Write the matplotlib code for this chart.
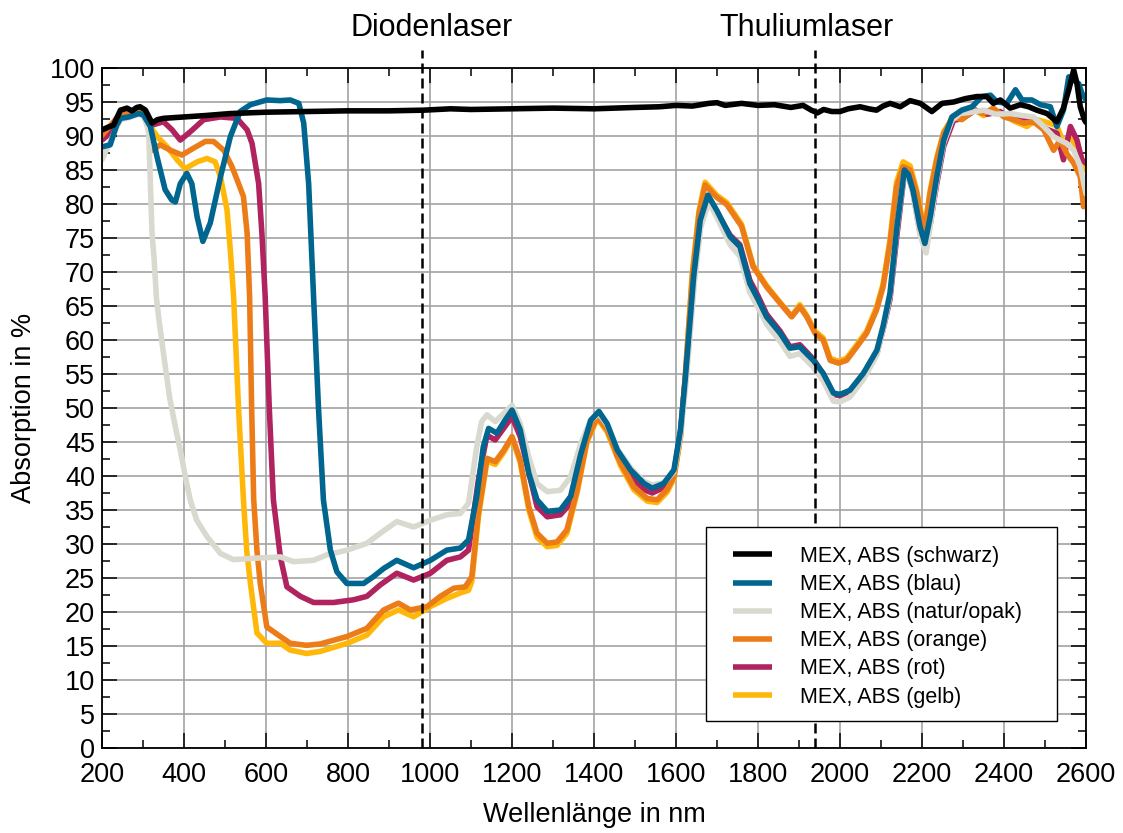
import matplotlib
matplotlib.use("Agg")
import matplotlib.pyplot as plt
from matplotlib.ticker import MultipleLocator
from matplotlib.patches import Rectangle

plt.rcParams['font.family'] = ['Liberation Sans', 'DejaVu Sans']

# ---- measured absorption spectra (wavelength in nm, absorption in %) ----
nm_schwarz = [200, 215, 228, 245, 261, 273, 285, 293, 306, 322, 335, 350, 400, 450, 513, 600,
              700, 797, 900, 985, 1050, 1100, 1200, 1300, 1400, 1500, 1560, 1600, 1640, 1680,
              1700, 1720, 1760, 1800, 1840, 1880, 1910, 1930, 1945, 1960, 1980, 2000, 2020,
              2049, 2070, 2089, 2105, 2122, 2147, 2171, 2196, 2224, 2249, 2277, 2306, 2334,
              2358, 2374, 2391, 2415, 2440, 2460, 2480, 2505, 2529, 2545, 2558, 2570, 2578,
              2586, 2596, 2600]
abs_schwarz = [90.9, 91.3, 91.6, 93.8, 94.1, 93.7, 94.2, 94.3, 93.8, 91.9, 92.4, 92.6, 92.8, 93.0,
               93.3, 93.5, 93.6, 93.7, 93.7, 93.8, 94.0, 93.9, 94.0, 94.1, 94.0, 94.2, 94.3, 94.5,
               94.4, 94.8, 94.9, 94.5, 94.8, 94.5, 94.6, 94.2, 94.5, 93.8, 93.4, 93.9, 93.6, 93.6,
               94.0, 94.3, 94.0, 93.8, 94.4, 94.8, 94.3, 95.2, 94.8, 93.6, 94.8, 95.0, 95.5, 95.8,
               95.8, 94.8, 95.3, 94.1, 94.6, 94.3, 93.8, 93.3, 92.1, 94.1, 96.8, 99.7, 97.7, 94.3,
               92.4, 92.0]

nm_blau = [200, 220, 235, 245, 265, 289, 301, 318, 334, 354, 370, 379, 391, 407, 419, 432, 446,
           464, 489, 513, 537, 562, 602, 635, 659, 680, 692, 704, 716, 728, 740, 757, 773, 797,
           838, 862, 887, 919, 960, 1001, 1041, 1074, 1094, 1114, 1130, 1143, 1163, 1183, 1200,
           1220, 1241, 1261, 1286, 1318, 1343, 1368, 1392, 1412, 1432, 1457, 1489, 1522, 1542,
           1570, 1595, 1611, 1623, 1643, 1659, 1678, 1700, 1732, 1756, 1780, 1800, 1821, 1854,
           1878, 1902, 1935, 1959, 1984, 2000, 2024, 2057, 2090, 2105, 2122, 2139, 2157, 2167,
           2178, 2195, 2207, 2220, 2236, 2253, 2273, 2297, 2322, 2346, 2367, 2383, 2407, 2428,
           2444, 2468, 2489, 2513, 2529, 2545, 2558, 2570, 2582, 2590, 2600]
abs_blau = [88.4, 88.7, 91.5, 92.6, 92.8, 93.3, 93.1, 91.4, 87.0, 82.1, 80.6, 80.3, 83.0, 84.5,
            83.0, 78.1, 74.5, 77.2, 84.0, 89.9, 93.6, 94.6, 95.3, 95.2, 95.3, 94.8, 91.9, 83.0,
            66.4, 50.0, 36.5, 29.1, 25.9, 24.2, 24.2, 25.2, 26.4, 27.6, 26.5, 27.6, 29.1, 29.4,
            30.6, 37.0, 44.3, 47.0, 46.3, 48.2, 49.7, 46.8, 40.4, 36.5, 34.8, 35.0, 37.0, 43.3,
            48.2, 49.5, 47.7, 43.8, 40.9, 38.9, 38.2, 38.9, 40.9, 46.8, 54.6, 69.3, 77.6, 81.3,
            79.0, 75.2, 73.7, 68.3, 66.0, 63.4, 61.0, 58.8, 59.0, 57.0, 55.1, 52.2, 52.0, 52.6,
            55.1, 58.5, 62.0, 66.9, 76.7, 85.0, 84.3, 82.0, 76.7, 74.2, 78.1, 84.0, 89.4, 92.8,
            93.8, 94.3, 95.8, 96.0, 95.0, 94.8, 96.8, 95.3, 95.3, 94.6, 94.3, 91.4, 93.8, 98.7,
            98.2, 97.7, 96.3, 95.3]

nm_natur = [200, 215, 230, 245, 265, 289, 301, 310, 314, 318, 322, 327, 333, 340, 350, 365, 378,
            391, 403, 415, 431, 456, 489, 521, 570, 635, 667, 716, 748, 798, 846, 879, 919, 960,
            1001, 1041, 1074, 1094, 1114, 1126, 1139, 1159, 1180, 1200, 1220, 1241, 1261, 1286,
            1318, 1343, 1368, 1392, 1412, 1432, 1457, 1489, 1522, 1542, 1570, 1595, 1611, 1625,
            1645, 1660, 1680, 1700, 1732, 1756, 1780, 1800, 1821, 1854, 1878, 1902, 1935, 1959,
            1984, 2000, 2024, 2057, 2090, 2105, 2122, 2139, 2157, 2167, 2178, 2195, 2210, 2220,
            2236, 2253, 2273, 2293, 2320, 2350, 2380, 2415, 2445, 2472, 2497, 2521, 2553, 2570,
            2586, 2600]
abs_natur = [86.5, 88.5, 90.5, 92.4, 92.7, 93.2, 93.0, 91.5, 90.4, 83.0, 75.7, 72.0, 66.0, 62.5,
             58.0, 51.5, 47.5, 43.8, 40.0, 36.5, 33.5, 31.1, 28.6, 27.7, 27.9, 28.1, 27.4, 27.6,
             28.4, 29.1, 30.1, 31.6, 33.3, 32.5, 33.5, 34.3, 34.5, 36.0, 44.3, 48.0, 49.0, 48.0,
             49.2, 50.4, 47.7, 42.8, 38.9, 37.7, 37.9, 39.9, 44.8, 48.2, 49.2, 47.5, 44.0, 41.2,
             39.2, 38.7, 39.0, 40.6, 46.0, 54.0, 68.5, 76.5, 80.3, 78.0, 74.0, 72.3, 67.0, 64.8,
             62.3, 59.8, 57.6, 58.0, 56.0, 54.0, 51.0, 50.9, 51.6, 54.2, 57.8, 61.5, 66.5, 76.5,
             84.6, 84.0, 81.5, 75.5, 72.8, 76.8, 83.5, 89.0, 92.3, 93.3, 93.5, 93.8, 93.2, 93.3,
             93.0, 92.8, 91.4, 89.9, 88.9, 87.9, 85.5, 81.5]

nm_orange = [200, 220, 245, 265, 293, 306, 316, 322, 342, 367, 395, 423, 452, 472, 497, 517, 533,
             545, 554, 560, 565, 570, 578, 586, 602, 635, 659, 699, 732, 798, 846, 887, 923, 952,
             993, 1025, 1058, 1086, 1102, 1118, 1139, 1159, 1180, 1200, 1220, 1241, 1261, 1286,
             1310, 1334, 1359, 1383, 1408, 1432, 1465, 1497, 1530, 1554, 1578, 1595, 1611, 1622,
             1640, 1656, 1671, 1699, 1724, 1760, 1788, 1821, 1854, 1882, 1902, 1919, 1939, 1959,
             1976, 1996, 2016, 2041, 2065, 2089, 2105, 2122, 2138, 2154, 2171, 2187, 2200, 2207,
             2220, 2236, 2253, 2277, 2297, 2326, 2350, 2374, 2400, 2424, 2448, 2472, 2497, 2521,
             2537, 2553, 2570, 2586, 2594, 2600]
abs_orange = [90.1, 91.5, 93.3, 93.4, 93.8, 93.3, 90.5, 87.9, 88.7, 87.9, 87.2, 88.2, 89.2, 89.2,
              87.9, 85.5, 83.0, 81.1, 75.7, 66.4, 50.0, 36.5, 29.0, 24.2, 17.8, 16.4, 15.4, 15.1,
              15.3, 16.4, 17.6, 20.3, 21.3, 20.3, 20.8, 22.3, 23.5, 23.7, 25.2, 34.5, 42.6, 42.1,
              43.8, 45.8, 42.4, 35.5, 31.6, 30.1, 30.3, 32.1, 38.0, 45.3, 48.7, 46.8, 41.9, 38.4,
              36.7, 36.5, 38.0, 39.9, 45.8, 54.0, 69.5, 78.5, 82.8, 81.0, 79.9, 76.7, 70.8, 67.8,
              65.4, 63.4, 64.9, 63.4, 61.0, 60.0, 57.0, 56.6, 57.0, 59.0, 61.0, 64.4, 67.8, 74.2,
              82.5, 85.5, 85.0, 81.6, 77.5, 76.2, 81.6, 86.5, 90.4, 92.8, 92.4, 93.8, 93.3, 94.1,
              92.8, 92.4, 91.9, 92.1, 90.9, 87.9, 89.4, 87.4, 86.0, 84.0, 79.6, 80.0]

nm_rot = [200, 220, 245, 265, 293, 306, 322, 350, 371, 391, 415, 448, 489, 529, 554, 566, 582,
          590, 598, 608, 618, 635, 651, 684, 716, 765, 814, 846, 879, 919, 960, 1001, 1041, 1074,
          1094, 1118, 1139, 1159, 1200, 1220, 1261, 1286, 1318, 1343, 1368, 1392, 1412, 1432,
          1457, 1489, 1522, 1542, 1570, 1595, 1611, 1623, 1643, 1659, 1678, 1700, 1732, 1756,
          1780, 1800, 1821, 1854, 1878, 1902, 1935, 1959, 1984, 2000, 2024, 2057, 2090, 2105,
          2122, 2139, 2157, 2167, 2178, 2195, 2207, 2220, 2236, 2253, 2277, 2300, 2330, 2360,
          2390, 2420, 2450, 2480, 2505, 2529, 2545, 2562, 2578, 2590, 2600]
abs_rot = [89.4, 90.4, 93.1, 93.3, 93.6, 93.1, 91.6, 92.1, 90.9, 89.4, 90.6, 92.4, 92.8, 92.6,
           90.9, 88.9, 83.0, 75.7, 66.4, 50.0, 36.5, 28.1, 23.7, 22.3, 21.4, 21.4, 21.8, 22.3,
           24.0, 25.7, 24.7, 25.7, 27.6, 28.1, 29.1, 39.4, 46.0, 45.3, 48.7, 45.8, 35.5, 34.0,
           34.3, 36.0, 42.8, 48.0, 49.2, 47.5, 43.0, 40.0, 38.0, 37.5, 38.3, 40.5, 46.5, 54.5,
           69.0, 77.4, 81.0, 78.8, 75.4, 74.0, 68.8, 66.5, 63.8, 61.3, 59.0, 59.3, 57.2, 55.0,
           52.0, 51.8, 52.4, 54.8, 58.0, 61.5, 66.0, 75.5, 84.5, 84.0, 81.8, 75.8, 73.8, 77.0,
           83.0, 88.5, 92.3, 92.6, 93.8, 93.2, 93.6, 92.6, 92.3, 92.0, 91.0, 90.4, 86.5, 91.4,
           89.4, 86.5, 86.0]

nm_gelb = [200, 220, 245, 265, 293, 306, 322, 338, 359, 383, 403, 432, 456, 476, 489, 505, 513,
           521, 533, 545, 553, 562, 578, 602, 635, 659, 699, 732, 798, 846, 887, 923, 960, 1001,
           1041, 1074, 1094, 1102, 1118, 1139, 1159, 1180, 1200, 1220, 1241, 1261, 1286, 1310,
           1334, 1359, 1383, 1408, 1432, 1465, 1497, 1530, 1554, 1578, 1595, 1611, 1622, 1640,
           1656, 1671, 1699, 1724, 1760, 1788, 1821, 1854, 1882, 1902, 1919, 1939, 1959, 1976,
           1996, 2016, 2041, 2065, 2089, 2105, 2122, 2138, 2154, 2171, 2187, 2200, 2207, 2220,
           2236, 2253, 2277, 2300, 2326, 2350, 2374, 2400, 2424, 2456, 2480, 2505, 2529, 2545,
           2562, 2578, 2590, 2600]
abs_gelb = [89.8, 91.3, 93.1, 93.3, 93.6, 93.2, 91.0, 89.7, 88.4, 86.5, 85.2, 86.2, 86.7, 86.2,
            84.0, 79.1, 73.2, 66.4, 50.0, 36.5, 29.0, 24.2, 16.9, 15.4, 15.4, 14.4, 13.9, 14.2,
            15.4, 16.6, 19.3, 20.3, 19.3, 20.8, 22.0, 22.8, 23.2, 24.5, 34.0, 42.2, 41.7, 43.5,
            45.6, 42.0, 35.0, 31.0, 29.6, 29.8, 31.6, 37.6, 45.0, 48.5, 46.5, 41.5, 38.0, 36.3,
            36.1, 37.6, 39.6, 45.8, 54.3, 70.0, 79.0, 83.2, 81.3, 80.2, 77.0, 71.0, 68.0, 65.5,
            63.5, 65.2, 63.6, 61.3, 60.3, 57.3, 56.9, 57.3, 59.3, 61.3, 64.8, 68.2, 74.8, 83.2,
            86.2, 85.6, 82.0, 78.0, 76.8, 82.0, 86.8, 90.6, 93.0, 92.6, 94.0, 93.0, 93.8, 93.2,
            92.2, 91.4, 92.4, 92.0, 91.5, 89.0, 90.0, 88.0, 86.0, 85.0]

labels = ["MEX, ABS (schwarz)", "MEX, ABS (blau)", "MEX, ABS (natur/opak)",
          "MEX, ABS (orange)", "MEX, ABS (rot)", "MEX, ABS (gelb)"]
colors = ["#000000", "#00658f", "#d9d9d0", "#ec7c17", "#b0235f", "#ffb80a"]
wavelengths = [nm_schwarz, nm_blau, nm_natur, nm_orange, nm_rot, nm_gelb]
absorptions = [abs_schwarz, abs_blau, abs_natur, abs_orange, abs_rot, abs_gelb]

laser_nm = [980, 1940]
laser_names = ["Diodenlaser", "Thuliumlaser"]
laser_label_x = [1003, 1918]

W, H = 1123, 833
fig = plt.figure(figsize=(W / 100, H / 100), dpi=100)
ax = fig.add_axes([102 / W, 1 - 748 / H, 984 / W, 680 / H])

# spectra: last legend entry drawn first so black ends up on top
handles = [None] * len(labels)
for i in reversed(range(len(labels))):
    (h,) = ax.plot(wavelengths[i], absorptions[i], color=colors[i], lw=4.0,
                   solid_joinstyle='round', solid_capstyle='round', label=labels[i])
    handles[i] = h

# laser wavelengths
for x, name, tx in zip(laser_nm, laser_names, laser_label_x):
    ax.plot([x, x], [0, 102.7], color='black', lw=1.8, ls=(0, (4, 2)),
            clip_on=False, zorder=3)
    ax.text(tx, 104.7, name, ha='center', va='baseline', fontsize=22)

ax.set_xlim(200, 2600)
ax.set_ylim(0, 100)
ax.xaxis.set_major_locator(MultipleLocator(200))
ax.xaxis.set_minor_locator(MultipleLocator(100))
ax.yaxis.set_major_locator(MultipleLocator(5))
ax.yaxis.set_minor_locator(MultipleLocator(2.5))
ax.tick_params(which='both', direction='in', top=True, right=True, width=1.1)
ax.tick_params(which='major', length=11, labelsize=19.5)
ax.tick_params(which='minor', length=5.5)
ax.tick_params(axis='x', pad=10)
ax.tick_params(axis='y', pad=5)
for s in ax.spines.values():
    s.set_linewidth(1.3)
ax.grid(which='major', color='#a3a3a3', lw=1.2)
ax.set_axisbelow(True)

ax.set_xlabel("Wellenlänge in nm", fontsize=19.5)
ax.set_ylabel("Absorption in %", fontsize=19.5)
ax.xaxis.set_label_coords(0.5, -0.08)
ax.yaxis.set_label_coords(-0.066, 0.5)

# legend box
frame = Rectangle((706 / W, 1 - 721 / H), 351 / W, 194 / H, transform=fig.transFigure,
                  facecolor='white', edgecolor='black', lw=1.0, zorder=4.9, clip_on=False)
ax.add_patch(frame)
leg = ax.legend(handles=handles, labels=labels, loc='upper left',
                bbox_to_anchor=(733 / W, 1 - 546 / H), bbox_transform=fig.transFigure,
                frameon=False, fontsize=15.5, borderpad=0, borderaxespad=0,
                handlelength=1.81, handletextpad=1.3, labelspacing=0.33)
leg.set_zorder(6)
for lh in leg.get_lines():
    lh.set_linewidth(4)
    lh.set_solid_capstyle('butt')

fig.savefig("out.png", dpi=100)
